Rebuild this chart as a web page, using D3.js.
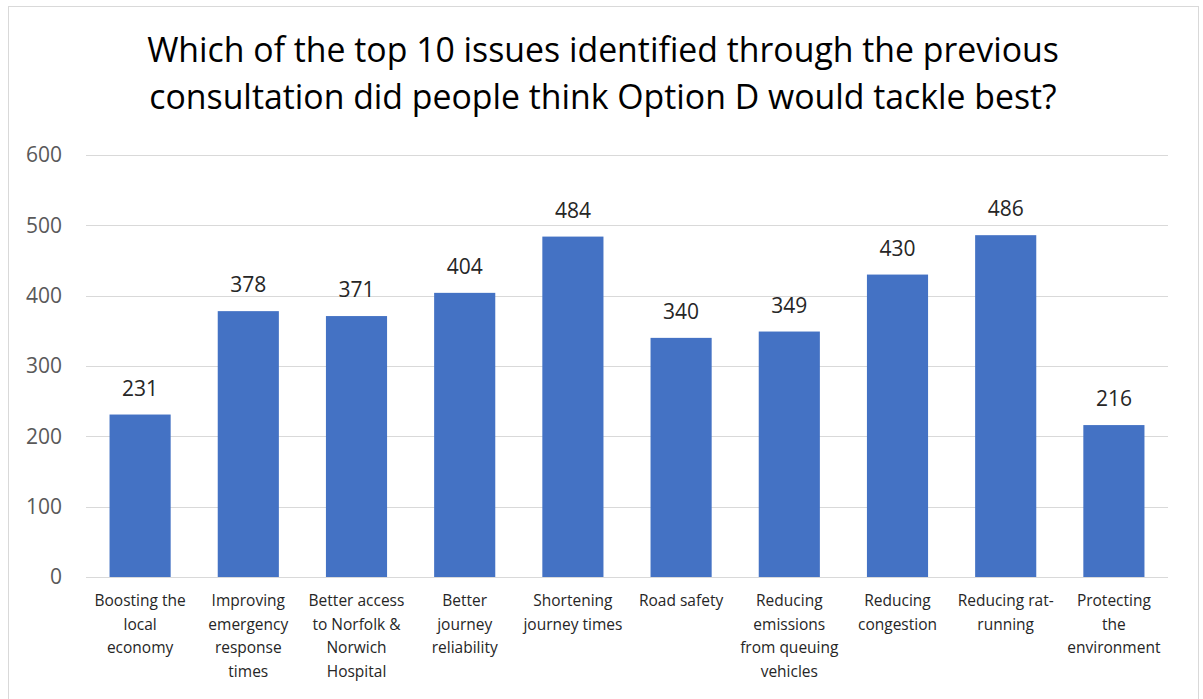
<!DOCTYPE html>
<html>
<head>
<meta charset="utf-8">
<script src="https://cdn.jsdelivr.net/npm/d3@7"></script>
<style>
  body { margin: 0; background: #fff; }
  svg { display: block; font-family: "Open Sans", "Liberation Sans", sans-serif; }
</style>
</head>
<body>
<div id="chart"></div>
<script>
// chart data
var categories = [
	"Boosting the\nlocal\neconomy",
	"Improving\nemergency\nresponse\ntimes",
	"Better access\nto Norfolk &\nNorwich\nHospital",
	"Better\njourney\nreliability",
	"Shortening\njourney times",
	"Road safety",
	"Reducing\nemissions\nfrom queuing\nvehicles",
	"Reducing\ncongestion",
	"Reducing rat-\nrunning",
	"Protecting\nthe\nenvironment"
];
var values = [231, 378, 371, 404, 484, 340, 349, 430, 486, 216];
var yTicks = [0, 100, 200, 300, 400, 500, 600];
var titleLines = [
	"Which of the top 10 issues identified through the previous",
	"consultation did people think Option D would tackle best?"
];

var width = 1203, height = 699;
var plot = { left: 86, right: 1168, top: 155, bottom: 577 };

var svg = d3.select("#chart").append("svg")
	.attr("width", width)
	.attr("height", height);

// chart frame
svg.append("rect")
	.attr("x", 8.5).attr("y", 6.5)
	.attr("width", 1190).attr("height", 700)
	.attr("fill", "#fff")
	.attr("stroke", "#d9d9d9");

// title
svg.append("text")
	.attr("text-anchor", "middle")
	.attr("font-size", 33.8)
	.attr("fill", "#000")
	.selectAll("tspan")
	.data(titleLines)
	.enter().append("tspan")
	.attr("x", 603)
	.attr("y", function (d, i) { return 62 + i * 47; })
	.text(function (d) { return d; });

var x = d3.scaleBand()
	.domain(categories)
	.range([plot.left, plot.right])
	.paddingInner(0.435)
	.paddingOuter(0.2175);

var y = d3.scaleLinear()
	.domain([0, 600])
	.range([plot.bottom, plot.top]);

// grid lines
svg.append("g")
	.selectAll("line")
	.data(yTicks)
	.enter().append("line")
	.attr("x1", plot.left).attr("x2", plot.right)
	.attr("y1", function (d) { return Math.round(y(d)) + 0.5; })
	.attr("y2", function (d) { return Math.round(y(d)) + 0.5; })
	.attr("stroke", "#d9d9d9")
	.attr("stroke-width", 1);

// y axis labels
var yAxis = d3.axisLeft(y).tickValues(yTicks).tickSize(0).tickPadding(24);
var yAxisGroup = svg.append("g")
	.attr("transform", "translate(" + plot.left + ",0)")
	.call(yAxis);
yAxisGroup.select(".domain").remove();
yAxisGroup.selectAll("text")
	.attr("font-family", "\"Open Sans\", sans-serif")
	.attr("font-size", 21)
	.attr("fill", "#595959");

// bars
svg.append("g")
	.selectAll("rect")
	.data(values)
	.enter().append("rect")
	.attr("x", function (d, i) { return x(categories[i]); })
	.attr("width", x.bandwidth())
	.attr("y", function (d) { return y(d); })
	.attr("height", function (d) { return y(0) - y(d); })
	.attr("fill", "#4472c4");

// value labels
svg.append("g")
	.selectAll("text")
	.data(values)
	.enter().append("text")
	.attr("text-anchor", "middle")
	.attr("x", function (d, i) { return x(categories[i]) + x.bandwidth() / 2; })
	.attr("y", function (d) { return y(d) - 19; })
	.attr("font-size", 21)
	.attr("fill", "#262626")
	.text(function (d) { return d; });

// category labels
var xAxisGroup = svg.append("g")
	.selectAll("text")
	.data(categories)
	.enter().append("text")
	.attr("text-anchor", "middle")
	.attr("font-size", 15.5)
	.attr("fill", "#262626");

xAxisGroup.selectAll("tspan")
	.data(function (d) { return d.split("\n").map(function (l) { return { line: l, cat: d }; }); })
	.enter().append("tspan")
	.attr("x", function (d) { return x(d.cat) + x.bandwidth() / 2; })
	.attr("y", function (d, i) { return 606 + i * 23.5; })
	.text(function (d) { return d.line; });
</script>
</body>
</html>
